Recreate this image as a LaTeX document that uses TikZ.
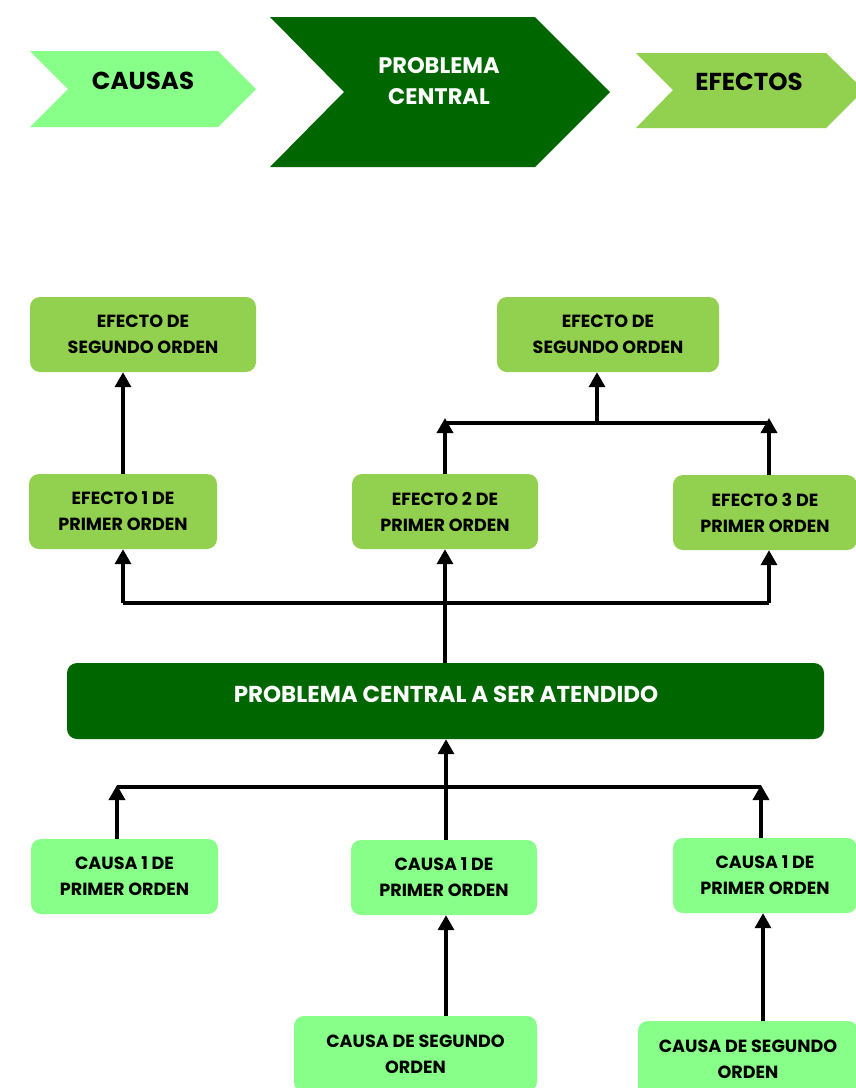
\documentclass[tikz,border=0pt]{standalone}
\usepackage{fontspec}
\setmainfont{Poppins}
\usetikzlibrary{arrows.meta,calc}
\definecolor{causeg}{HTML}{88FF88}
\definecolor{effectg}{HTML}{92D050}
\definecolor{darkg}{HTML}{006600}
\tikzset{
  box/.style={rounded corners=10pt, inner sep=0pt, align=center, font=\fontsize{17.6}{26}\selectfont\bfseries, text=black},
  causebox/.style={box, fill=causeg},
  effectbox/.style={box, fill=effectg},
  probbox/.style={box, fill=darkg, text=white, font=\fontsize{23}{26}\selectfont\bfseries},
  chevtext/.style={align=center, inner sep=0pt, font=\fontsize{24.5}{31}\selectfont\bfseries},
  conn/.style={line width=3.5pt, -{Triangle[width=16pt,length=15pt]}},
  plain/.style={line width=3.5pt}
}
\begin{document}
\begin{tikzpicture}[x=1pt,y=-1pt]
\useasboundingbox (0,0) rectangle (856,1088);
% top chevrons
\fill[causeg] (30,51) -- (218,51) -- (256,89) -- (218,127) -- (30,127) -- (68,89) -- cycle;
\node[chevtext] (tcausas) at (143,81) {CAUSAS};
\fill[darkg] (270,17) -- (535,17) -- (610,92) -- (535,167) -- (270,167) -- (344,92) -- cycle;
\node[chevtext, text=white, font=\fontsize{22.5}{31}\selectfont\bfseries] (tprob) at (439,81) {PROBLEMA\\CENTRAL};
\fill[effectg] (636,53) -- (826,53) -- (864,90) -- (826,128) -- (636,128) -- (673,90) -- cycle;
\node[chevtext] (tefectos) at (749,82) {EFECTOS};

% effect boxes
\node[effectbox, minimum width=226pt, minimum height=75pt] (S1) at (143,334.5) {EFECTO DE\\SEGUNDO ORDEN};
\node[effectbox, minimum width=222pt, minimum height=75pt] (S2) at (608,334.5) {EFECTO DE\\SEGUNDO ORDEN};
\node[effectbox, minimum width=188pt, minimum height=75pt] (E1) at (123,511.5) {EFECTO 1 DE\\PRIMER ORDEN};
\node[effectbox, minimum width=186pt, minimum height=75pt] (E2) at (445,511.5) {EFECTO 2 DE\\PRIMER ORDEN};
\node[effectbox, minimum width=184pt, minimum height=75pt] (E3) at (765,512.5) {EFECTO 3 DE\\PRIMER ORDEN};
% problem
\node[probbox, minimum width=757pt, minimum height=76pt] (P) at (445.5,701) {};
\node[probbox, fill=none] (Pt) at (446,694) {PROBLEMA CENTRAL A SER ATENDIDO};
% cause boxes
\node[causebox, minimum width=187pt, minimum height=75pt] (C1) at (124.5,876.5) {CAUSA 1 DE\\PRIMER ORDEN};
\node[causebox, minimum width=186pt, minimum height=75pt] (C2) at (444,877.5) {CAUSA 1 DE\\PRIMER ORDEN};
\node[causebox, minimum width=184pt, minimum height=75pt] (C3) at (765,875.5) {CAUSA 1 DE\\PRIMER ORDEN};
\node[causebox, minimum width=243pt, minimum height=76pt] (CS1) at (415.5,1054) {CAUSA DE SEGUNDO\\ORDEN};
\node[causebox, minimum width=220pt, minimum height=76pt] (CS2) at (748,1059) {CAUSA DE SEGUNDO\\ORDEN};

% connectors: effects
\draw[conn] (E1.north) -- (E1.north |- S1.south);
\coordinate (bL) at (445,423);
\coordinate (bR) at (769,423);
\coordinate (bM) at (597,423);
\draw[plain] (bL) -- (bR);
\draw[conn] ($(E2.north)$) -- ($(E2.north |- bL)+(0,-5)$);
\draw[conn] (769,475) coordinate (e3t) -- ($(e3t |- bR)+(0,-5)$);
\draw[conn] (bM) -- (bM |- S2.south);
% lower effects bar
\coordinate (lL) at (123,603);
\coordinate (lR) at (769,603);
\draw[plain] (lL) -- (lR);
\draw[conn] (lL) -- (lL |- E1.south);
\draw[conn] (lR) -- (lR |- E3.south);
\draw[conn] (P.north -| E2.south) -- (E2.south);
% causes
\coordinate (cL) at (117,787);
\coordinate (cR) at (761,787);
\draw[plain] (cL) -- (cR);
\draw[conn] (cL |- C1.north) -- ($(cL)+(0,-2)$);
\draw[conn] (cR |- C3.north) -- ($(cR)+(0,-2)$);
\draw[conn] (446,840) coordinate (c2t) -- (c2t |- P.south);
\draw[conn] (446,1016) coordinate (cs1t) -- (cs1t |- C2.south);
\draw[conn] (763,1021) coordinate (cs2t) -- (cs2t |- C3.south);
\end{tikzpicture}
\end{document}
